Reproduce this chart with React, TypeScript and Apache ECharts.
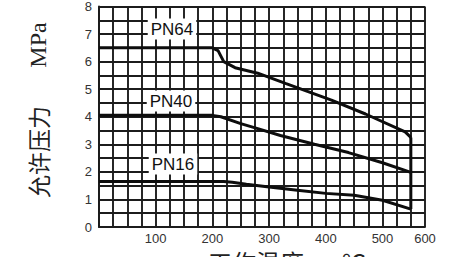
import React, { useEffect, useRef } from "react";
import * as echarts from "echarts";

// Temperature (°C) / allowable pressure (MPa)
const pn64Temps = [0, 200, 210, 220, 240, 280, 330, 410, 470, 540, 550];
const pn64Values = [6.5, 6.5, 6.4, 6.0, 5.78, 5.58, 5.2, 4.6, 4.1, 3.45, 3.25];

const pn40Temps = [0, 200, 215, 250, 280, 320, 380, 440, 500, 550];
const pn40Values = [4.05, 4.05, 4.0, 3.75, 3.57, 3.32, 3.0, 2.7, 2.33, 1.98];

const pn16Temps = [0, 220, 235, 260, 300, 350, 400, 450, 500, 550];
const pn16Values = [1.65, 1.65, 1.62, 1.55, 1.45, 1.33, 1.22, 1.15, 0.97, 0.65];

const limitTemps = [550, 550];
const limitValues = [3.25, 0.65];

const xTickValues = [100, 200, 300, 400, 500, 575];
const xTickLabels = ["100", "200", "300", "400", "500", "600"];
const yTickLabels = ["0", "1", "2", "3", "4", "5", "6", "7", "8"];

const seriesNames = ["PN64", "PN40", "PN16"];

const zip = (xs: number[], ys: number[]) => xs.map((x, i) => [x, ys[i]]);

export default function App() {
  const ref = useRef<HTMLDivElement>(null);
  useEffect(() => {
    if (!ref.current) return;
    const chart = echarts.init(ref.current, null, { renderer: "svg" });
    const gridLine = { show: true, lineStyle: { color: "#1c1c1c", width: 1.9 } };
    const curve = (name: string, data: number[][]) => ({
      name,
      type: "line",
      data,
      showSymbol: false,
      symbol: "none",
      lineStyle: { color: "#0d0d0d", width: 3 },
      z: 5,
    });
    const labelText = (text: string, x: number, y: number) => ({
      type: "text",
      x,
      y,
      z: 20,
      style: {
        text,
        fill: "#111",
        font: "17px 'Liberation Sans', Arial, sans-serif",
        align: "center",
        verticalAlign: "middle",
        backgroundColor: "#fff",
        padding: [2, 3],
      },
    });
    chart.setOption({
      animation: false,
      backgroundColor: "#fff",
      grid: { left: 99, right: 27, top: 5, bottom: 30 },
      xAxis: {
        type: "value",
        min: 0,
        max: 575,
        interval: 25,
        axisLine: { show: true, lineStyle: { color: "#1c1c1c", width: 1.9 } },
        axisTick: { show: false },
        splitLine: gridLine,
        axisLabel: {
          interval: 0,
          margin: 5,
          color: "#333",
          fontSize: 13,
          fontFamily: "'Liberation Sans', Arial, sans-serif",
          formatter: (v: number) => {
            const i = xTickValues.indexOf(v);
            return i >= 0 ? xTickLabels[i] : "";
          },
        },
      },
      yAxis: {
        type: "value",
        min: 0,
        max: 8,
        interval: 0.5,
        axisLine: { show: true, lineStyle: { color: "#1c1c1c", width: 1.9 } },
        axisTick: { show: false },
        splitLine: gridLine,
        axisLabel: {
          margin: 7,
          color: "#333",
          fontSize: 13,
          fontFamily: "'Liberation Sans', Arial, sans-serif",
          formatter: (v: number) => (Number.isInteger(v) ? yTickLabels[v] : ""),
        },
      },
      series: [
        curve(seriesNames[0], zip(pn64Temps, pn64Values)),
        curve(seriesNames[1], zip(pn40Temps, pn40Values)),
        curve(seriesNames[2], zip(pn16Temps, pn16Values)),
        curve("limit", zip(limitTemps, limitValues)),
      ],
      graphic: [
        labelText(seriesNames[0], 172, 29),
        labelText(seriesNames[1], 171, 101),
        labelText(seriesNames[2], 173, 164),
        {
          type: "text",
          x: 38,
          y: 152,
          rotation: Math.PI / 2,
          style: {
            text: "允许压力",
            fill: "#222",
            font: "23px 'Noto Sans CJK SC', sans-serif",
            align: "center",
            verticalAlign: "middle",
          },
        },
        {
          type: "text",
          x: 38,
          y: 45,
          rotation: Math.PI / 2,
          style: {
            text: "MPa",
            fill: "#222",
            font: "24px 'Liberation Serif', serif",
            align: "center",
            verticalAlign: "middle",
          },
        },
        {
          type: "text",
          x: 208,
          y: 249,
          style: {
            text: "工作温度",
            fill: "#222",
            font: "24px 'Noto Sans CJK SC', sans-serif",
            align: "left",
            verticalAlign: "top",
          },
        },
        {
          type: "text",
          x: 342,
          y: 249,
          style: {
            text: "℃",
            fill: "#222",
            font: "24px 'Noto Sans CJK SC', sans-serif",
            align: "left",
            verticalAlign: "top",
          },
        },
      ],
    });
    return () => chart.dispose();
  }, []);
  return (
    <div
      ref={ref}
      style={{ position: "fixed", left: 0, top: 0, width: 452, height: 257, background: "#fff" }}
    />
  );
}
